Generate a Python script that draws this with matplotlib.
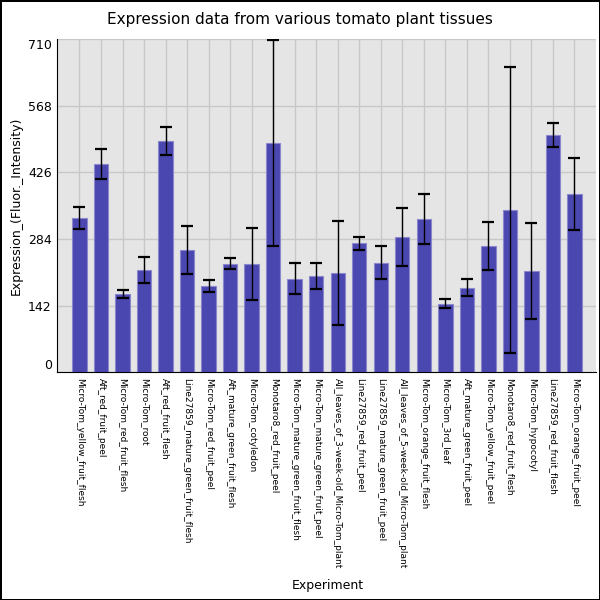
import matplotlib
matplotlib.use("Agg")
import matplotlib.pyplot as plt

# values
experiments = [
    "Micro-Tom_yellow_fruit_flesh",
    "Aft_red_fruit_peel",
    "Micro-Tom_red_fruit_flesh",
    "Micro-Tom_root",
    "Aft_red_fruit_flesh",
    "Line27859_mature_green_fruit_flesh",
    "Micro-Tom_red_fruit_peel",
    "Aft_mature_green_fruit_flesh",
    "Micro-Tom_cotyledon",
    "Monotaro8_red_fruit_peel",
    "Micro-Tom_mature_green_fruit_flesh",
    "Micro-Tom_mature_green_fruit_peel",
    "All_leaves_of_3-week-old_Micro-Tom_plant",
    "Line27859_red_fruit_peel",
    "Line27859_mature_green_fruit_peel",
    "All_leaves_of_5-week-old_Micro-Tom_plant",
    "Micro-Tom_orange_fruit_flesh",
    "Micro-Tom_3rd_leaf",
    "Aft_mature_green_fruit_peel",
    "Micro-Tom_yellow_fruit_peel",
    "Monotaro8_red_fruit_flesh",
    "Micro-Tom_hypocotyl",
    "Line27859_red_fruit_flesh",
    "Micro-Tom_orange_fruit_peel",
]
expression = [329, 444, 167, 218, 493, 261, 184, 231, 231, 488, 199, 205,
              212, 275, 233, 288, 327, 146, 180, 269, 346, 216, 506, 380]
error = [23, 32, 8, 28, 30, 51, 13, 12, 77, 219, 33, 27,
         111, 14, 35, 61, 53, 10, 18, 51, 305, 103, 25, 76]
y_ticks = [0, 142, 284, 426, 568, 710]

fig = plt.figure(figsize=(6, 6), dpi=100, linewidth=2, edgecolor="black")
ax = fig.add_axes([0.0955, 0.3795, 0.8978, 0.5555])
ax.set_facecolor("#e5e5e5")

x = range(len(experiments))
ax.bar(x, expression, width=0.67, color="#4b47b1", edgecolor="#8a87cc",
       linewidth=0.8, zorder=2)
ax.errorbar(x, expression, yerr=error, fmt="none", ecolor="black",
            elinewidth=1, capsize=4.5, capthick=1.6, zorder=3)

ax.set_xlim(-1.03, len(experiments))
ax.set_ylim(0, 710)
ax.set_xticks(list(x))
ax.set_xticklabels(experiments, rotation=270, fontsize=6.5, va="top", ha="center")
ax.set_yticks(y_ticks)
ax.set_yticklabels([str(v) for v in y_ticks], fontsize=9)
labels = ax.get_yticklabels()
labels[0].set_va("bottom")
labels[-1].set_va("top")
ax.tick_params(length=0, pad=4)

ax.grid(True, color="#c8c8c8", linewidth=1)
ax.set_axisbelow(True)
for side in ["top", "right"]:
    ax.spines[side].set_visible(False)
ax.spines["left"].set_color("black")
ax.spines["bottom"].set_color("black")

ax.set_ylabel("Expression_(Fluor._Intensity)", fontsize=9)
fig.text(0.546, 0.025, "Experiment", fontsize=9, ha="center", va="center")
fig.suptitle("Expression data from various tomato plant tissues",
             fontsize=11, y=0.98)

fig.savefig("out.png", dpi=100, edgecolor=fig.get_edgecolor())
